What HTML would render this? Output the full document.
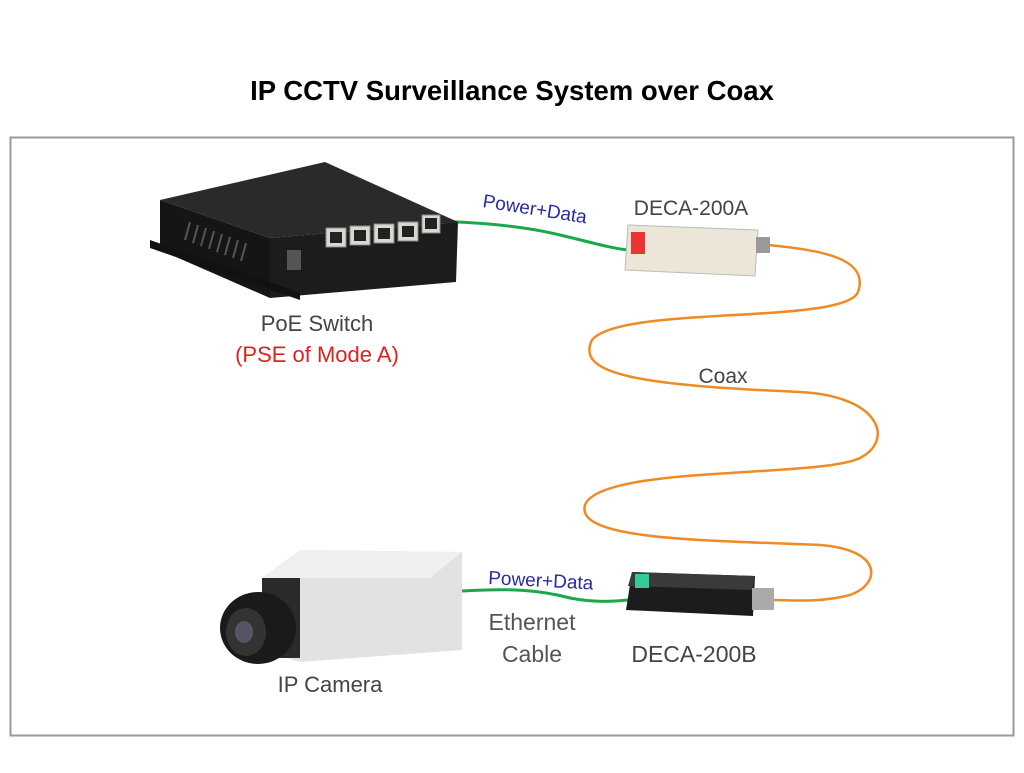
<!DOCTYPE html>
<html><head><style>
body{margin:0;background:#fff;width:1024px;height:768px;overflow:hidden;font-family:"Liberation Sans",sans-serif}
</style></head><body>
<svg width="1024" height="768" xmlns="http://www.w3.org/2000/svg">
<text x="512" y="100" text-anchor="middle" font-family="Liberation Sans" font-weight="bold" font-size="27.5" fill="#000">IP CCTV Surveillance System over Coax</text>
<rect x="10.5" y="137.5" width="1003" height="598" fill="none" stroke="#999" stroke-width="2"/>
<!-- coax -->
<path d="M768,245 C820,250 870,258 858,292 C845,325 620,305 592,340 C575,375 640,385 800,392 C880,396 895,440 860,458 C820,478 600,465 585,505 C575,540 700,540 820,545 C885,550 880,585 850,595 C820,603 790,600 770,600" fill="none" stroke="#f08a24" stroke-width="2.5"/>
<!-- green cables -->
<path d="M432,221 C470,222 520,225 560,235 C590,242 610,248 628,250" fill="none" stroke="#1aa84a" stroke-width="3"/>
<path d="M462,591 C510,588 540,590 570,598 C590,602 610,602 628,600" fill="none" stroke="#1aa84a" stroke-width="3"/>
<!-- switch -->
<polygon points="160,200 325,162 458,222 270,238" fill="#2a2a2a"/>
<polygon points="160,200 270,238 270,298 160,250" fill="#151515"/>
<polygon points="270,238 458,222 456,282 270,298" fill="#1c1c1c"/>
<polygon points="150,240 300,293 300,300 150,248" fill="#111"/>
<g fill="#d8d8d0" stroke="#888">
<rect x="326" y="228" width="20" height="19"/><rect x="350" y="226" width="20" height="19"/><rect x="374" y="224" width="20" height="19"/><rect x="398" y="222" width="20" height="19"/><rect x="422" y="215" width="18" height="18"/>
</g>
<g fill="#222"><rect x="330" y="232" width="12" height="11"/><rect x="354" y="230" width="12" height="11"/><rect x="378" y="228" width="12" height="11"/><rect x="402" y="226" width="12" height="11"/><rect x="425" y="218" width="12" height="11"/></g>
<rect x="287" y="250" width="14" height="20" fill="#555"/>
<g stroke="#555" stroke-width="2"><line x1="190" y1="222" x2="185" y2="240"/><line x1="198" y1="225" x2="193" y2="243"/><line x1="206" y1="228" x2="201" y2="246"/><line x1="214" y1="231" x2="209" y2="249"/><line x1="222" y1="234" x2="217" y2="252"/><line x1="230" y1="237" x2="225" y2="255"/><line x1="238" y1="240" x2="233" y2="258"/><line x1="246" y1="243" x2="241" y2="261"/></g>
<text x="317" y="331" text-anchor="middle" font-size="22" fill="#444">PoE Switch</text>
<text x="317" y="362" text-anchor="middle" font-size="22" fill="#d22">(PSE of Mode A)</text>
<!-- DECA-200A -->
<text x="482" y="207" font-size="19" fill="#2a2aa0" transform="rotate(9 482 207)">Power+Data</text>
<text x="691" y="215" text-anchor="middle" font-size="21" fill="#444">DECA-200A</text>
<polygon points="628,225 758,230 755,276 625,270" fill="#ece6d8" stroke="#bbb"/>
<rect x="631" y="232" width="14" height="22" fill="#e33"/>
<rect x="756" y="237" width="14" height="16" fill="#999"/>
<text x="723" y="383" text-anchor="middle" font-size="21" fill="#444">Coax</text>
<!-- DECA-200B -->
<text x="488" y="584" font-size="19" fill="#2a2aa0" transform="rotate(3 488 584)">Power+Data</text>
<polygon points="632,572 755,576 753,616 626,610" fill="#1c1c1c"/>
<polygon points="632,572 755,576 752,590 628,586" fill="#3a3a3a"/>
<rect x="635" y="574" width="14" height="14" fill="#3c9"/>
<rect x="752" y="588" width="22" height="22" fill="#aaa"/>
<text x="532" y="630" text-anchor="middle" font-size="23" fill="#555">Ethernet</text>
<text x="532" y="662" text-anchor="middle" font-size="23" fill="#555">Cable</text>
<text x="694" y="662" text-anchor="middle" font-size="23" fill="#444">DECA-200B</text>
<!-- camera -->
<polygon points="262,578 300,550 462,552 462,650 300,662 262,650" fill="#e2e2e2"/>
<polygon points="262,578 300,550 462,552 430,578" fill="#f0f0f0"/>
<rect x="262" y="578" width="38" height="80" fill="#2a2a2a"/>
<ellipse cx="258" cy="628" rx="38" ry="36" fill="#1a1a1a"/>
<ellipse cx="246" cy="632" rx="20" ry="24" fill="#333"/>
<ellipse cx="244" cy="632" rx="9" ry="11" fill="#556"/>
<text x="330" y="692" text-anchor="middle" font-size="22" fill="#444">IP Camera</text>
</svg>
</body></html>
